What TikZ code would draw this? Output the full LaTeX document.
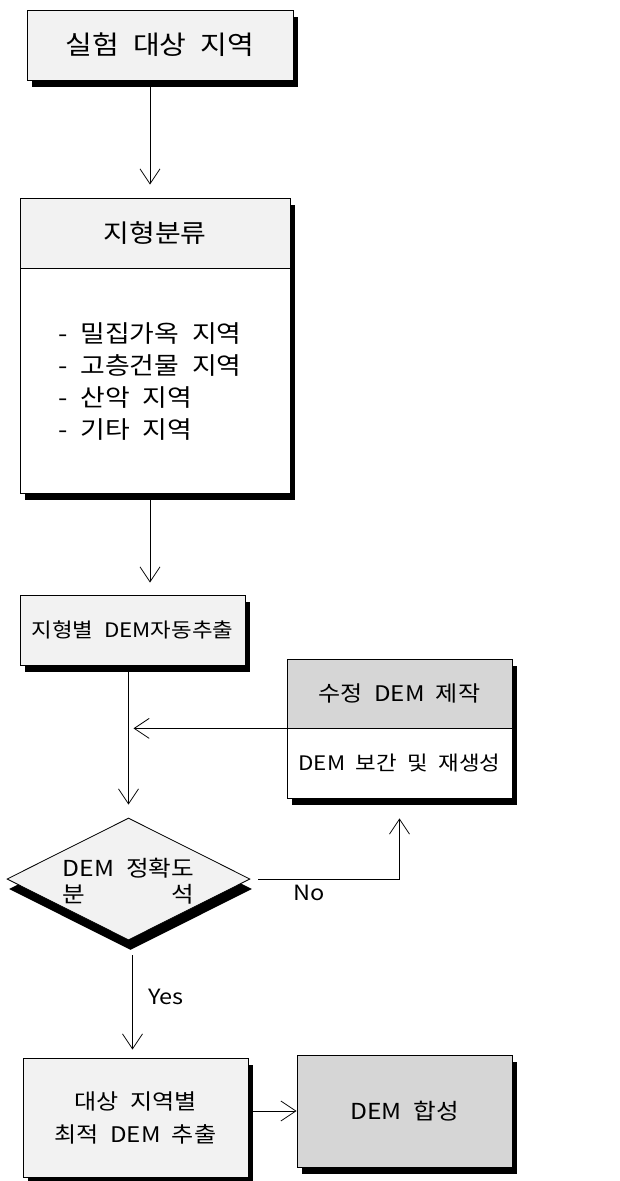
\documentclass[tikz,border=0pt]{standalone}
\usepackage{fontspec}
\setmainfont{Noto Sans CJK KR}[FakeStretch=1.12, WordSpace=2.1]
\usetikzlibrary{arrows.meta,shapes.geometric,shadows,calc}
\begin{document}
\begin{tikzpicture}[x=1pt,y=-1pt,
  shad/.style={drop shadow={shadow xshift=5pt, shadow yshift=-7pt, fill=black, opacity=1}},
  light/.style={fill=gray!10},
  dark/.style={fill=gray!32},
  blank/.style={fill=white},
  box/.style={draw, line width=0.8pt, inner sep=0pt, shad},
  arr/.style={line width=0.8pt, -{Straight Barb[length=15pt,width=20pt,line width=0.8pt]}},
  fs/.style={font=\fontsize{#1}{#1}\selectfont}
]
\useasboundingbox (0,0) rectangle (620,1181);
\coordinate (axis) at (150,0);

\node[box, light, minimum width=266pt, minimum height=70pt, fs=26] (b1) at (160,45) {실험 대상 지역};

\node[box, light, minimum width=270pt, minimum height=70pt, fs=25] (b2t) at (155,233) {지형분류};
\node[box, blank, minimum width=270pt, minimum height=225pt] (b2b) at (155,380.5) {};
\node[anchor=west, align=left, font=\fontsize{24}{32}\selectfont] (list) at (55,382)
  {- 밀집가옥 지역\\- 고층건물 지역\\- 산악 지역\\- 기타 지역};

\node[box, light, minimum width=225pt, minimum height=70pt, fs=20] (b3) at (132.5,630) {지형별 DEM자동추출};

\node[box, dark, minimum width=225pt, minimum height=69pt, fs=21.5] (rbt) at (399.5,693.5) {수정 DEM 제작};
\node[box, blank, minimum width=225pt, minimum height=70pt, fs=20] (rbb) at (399.5,763) {DEM 보간 및 재생성};

\node[diamond, draw, line width=0.8pt, light, aspect=2, inner sep=0pt,
  minimum width=243pt, minimum height=122pt,
  drop shadow={shadow xshift=2pt, shadow yshift=-10pt, fill=black, opacity=1}] (dia) at (128.5,879) {};
\node[font=\fontsize{22}{28}\selectfont] (diat) at (128.5,884)
  {\begin{tabular}{@{}c@{}}DEM 정확도\\[-2pt] 분\hfill 석\end{tabular}};

\node[box, light, minimum width=225pt, minimum height=119pt, align=center,
  font=\fontsize{21.5}{33}\selectfont] (bl) at (135.5,1117.5) {대상 지역별\\최적 DEM 추출};
\node[box, dark, minimum width=215pt, minimum height=112pt, fs=22] (dm) at (404.5,1111) {DEM 합성};

\node[fs=21] (no) at (309,893) {No};
\node[fs=21] (yes) at (166,997) {Yes};

% connectors
\draw[arr] (b1.south -| axis) -- ($(b2t.north -| axis)+(0,-13)$);
\draw[arr] (b2b.south -| axis) -- ($(b3.north -| axis)+(0,-12)$);
\draw[arr] (b3.south -| dia.north) -- ($(dia.north)+(0,-13)$);
\coordinate (j) at (rbt.south west -| dia.north);
\draw[arr] (rbt.south west) -- ($(j)+(5,0)$);
\draw[arr] ($(dia.east)+(8,0)$) -| ($(rbb.south)+(0,20)$);
\draw[arr] ($(dia.south)+(4,15)$) -- ($(dia.south |- bl.north)+(4,-8)$);
\draw[arr] (bl.east |- dm.west) -- (dm.west);
\end{tikzpicture}
\end{document}
